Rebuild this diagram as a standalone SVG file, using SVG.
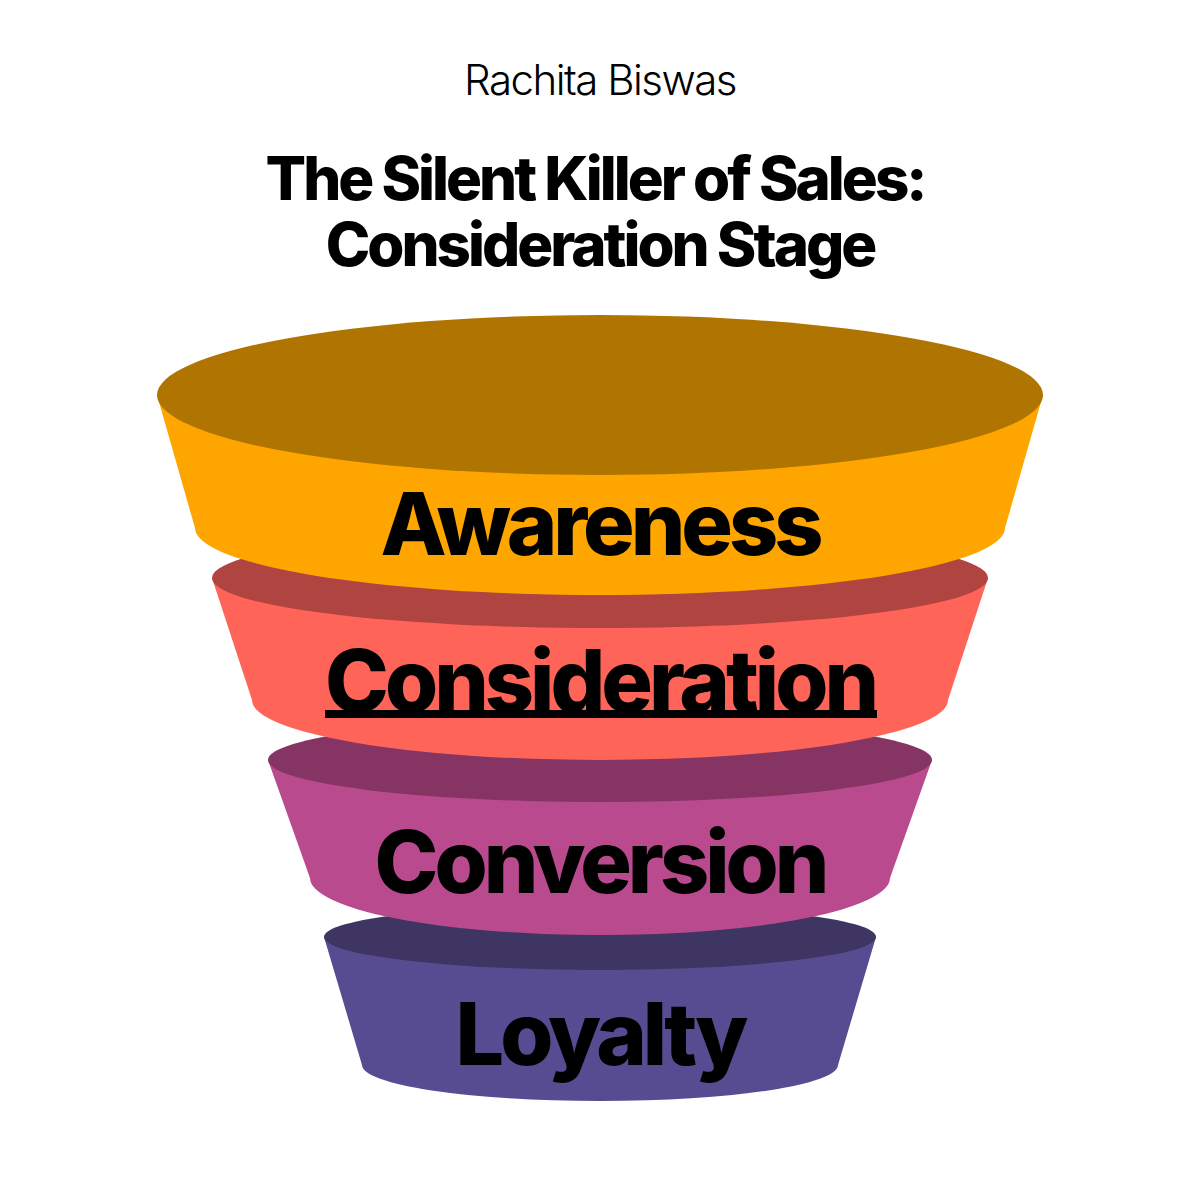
<svg xmlns="http://www.w3.org/2000/svg" width="1200" height="1200" viewBox="0 0 1200 1200">
<style>
.lbl{font-family:Inter,"Liberation Sans",sans-serif;font-weight:800;font-size:86px;letter-spacing:-4px;text-anchor:middle;fill:#000}
.ttl{font-family:Inter,"Liberation Sans",sans-serif;font-weight:800;font-size:60px;letter-spacing:-3px;text-anchor:middle;fill:#000}
</style>
<rect width="1200" height="1200" fill="#fff"/>
<text x="600" y="95" text-anchor="middle" font-family="Inter,'Liberation Sans',sans-serif" font-weight="300" font-size="42" letter-spacing="-1.5" fill="#000">Rachita Biswas</text>
<text class="ttl" x="595" y="200">The Silent Killer of Sales:</text>
<text class="ttl" x="600" y="266">Consideration Stage</text>
<g id="loyalty">
<path d="M324,937 L362,1065 A238,36 0 0 0 838,1065 L876,937 Z" fill="#574C91"/>
<ellipse cx="600" cy="937" rx="276" ry="33" fill="#3E3563"/>
<text class="lbl" x="600" y="1065">Loyalty</text>
</g>
<g id="conversion">
<path d="M268,760 L310,878 A290,57 0 0 0 890,878 L932,760 Z" fill="#B94A8D"/>
<ellipse cx="600" cy="760" rx="332" ry="42" fill="#863464"/>
<text class="lbl" x="600" y="893">Conversion</text>
</g>
<g id="consideration">
<path d="M212,578 L252,700 A348,60 0 0 0 948,700 L988,578 Z" fill="#FF6459"/>
<ellipse cx="600" cy="578" rx="388" ry="50" fill="#B04440"/>
<text class="lbl" x="600" y="712">Consideration</text>
<rect x="325" y="710" width="552" height="8" fill="#000"/>
</g>
<g id="awareness">
<path d="M157,395 L195,528 A405,67 0 0 0 1005,528 L1043,395 Z" fill="#FFA500"/>
<ellipse cx="600" cy="395" rx="443" ry="80" fill="#B07400"/>
<text class="lbl" x="600" y="555">Awareness</text>
</g>
<g id="connectors"/>
</svg>
